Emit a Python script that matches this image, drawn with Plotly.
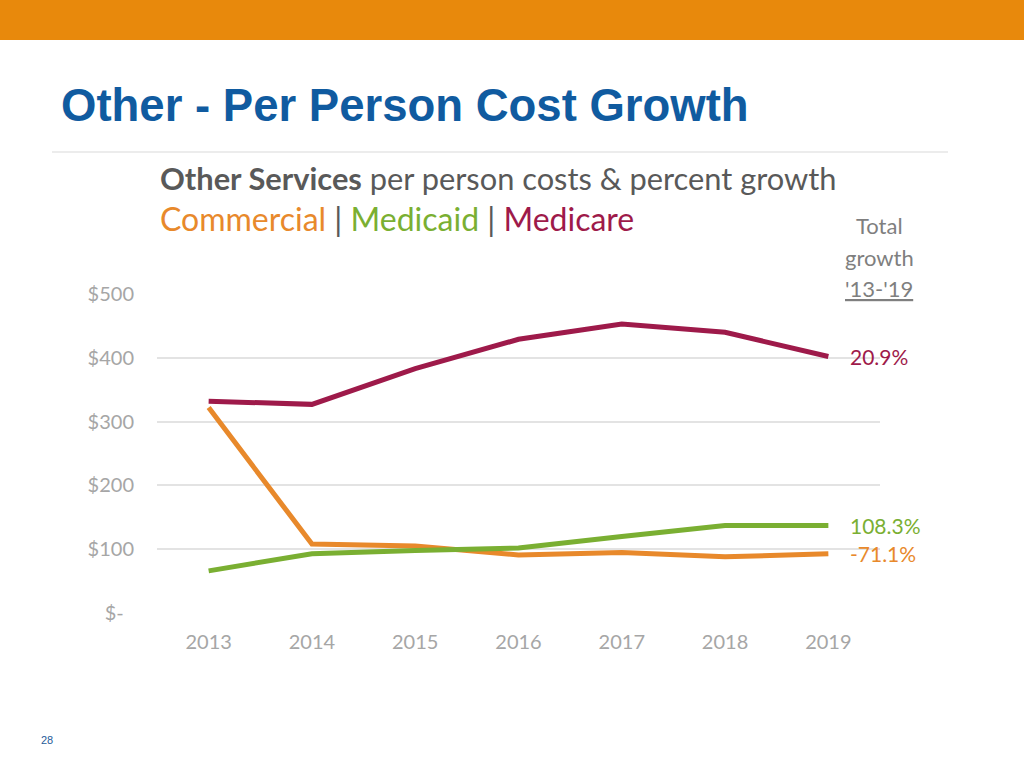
import plotly.graph_objects as go

years = ["2013", "2014", "2015", "2016", "2017", "2018", "2019"]
commercial = [322, 108, 105, 91, 95, 88, 93]
medicaid = [66, 93, 98, 102, 120, 137, 137]
medicare = [332, 327, 383, 429, 453, 440, 402]

y_tickvals = [0, 100, 200, 300, 400, 500]
y_ticktext = ["$-\u00a0\u00a0", "$100", "$200", "$300", "$400", "$500"]

growth_labels = ["-71.1%", "108.3%", "20.9%"]

C_COM = "#E8892B"
C_MCD = "#7AAF32"
C_MCR = "#9E1A4A"
GREY = "#595959"

W, H = 1024, 768
def px(x):
    return x / W
def py(y):
    return 1 - y / H

fig = go.Figure()
for name, vals, col in [("Commercial", commercial, C_COM),
                        ("Medicaid", medicaid, C_MCD),
                        ("Medicare", medicare, C_MCR)]:
    fig.add_trace(go.Scatter(x=years, y=vals, mode="lines", name=name,
                             line=dict(color=col, width=5), showlegend=False))

font_chart = "Lato, Open Sans, sans-serif"

annotations = [
    dict(x=px(59), y=py(105), xref="paper", yref="paper", xanchor="left", yanchor="middle",
         text="<b>Other - Per Person Cost Growth</b>", showarrow=False,
         font=dict(family="Liberation Sans, Arial", size=45.5, color="#105BA0")),
    dict(x=px(158), y=py(179), xref="paper", yref="paper", xanchor="left", yanchor="middle",
         text="<b>Other Services</b> per person costs &amp; percent growth", showarrow=False,
         font=dict(family=font_chart, size=30.8, color=GREY)),
    dict(x=px(158), y=py(218), xref="paper", yref="paper", xanchor="left", yanchor="middle",
         text=(f"<span style='color:{C_COM}'>Commercial</span> | "
               f"<span style='color:{C_MCD}'>Medicaid</span> | "
               f"<span style='color:{C_MCR}'>Medicare</span>"),
         showarrow=False, font=dict(family=font_chart, size=32, color=GREY)),
    dict(x=px(879), y=py(226), xref="paper", yref="paper", xanchor="center", yanchor="middle",
         text="Total", showarrow=False, font=dict(family=font_chart, size=22, color="#7F7F7F")),
    dict(x=px(879), y=py(257), xref="paper", yref="paper", xanchor="center", yanchor="middle",
         text="growth", showarrow=False, font=dict(family=font_chart, size=22, color="#7F7F7F")),
    dict(x=px(879), y=py(289), xref="paper", yref="paper", xanchor="center", yanchor="middle",
         text="<u>'13-'19</u>", showarrow=False, font=dict(family=font_chart, size=22, color="#7F7F7F")),
    dict(x=px(47), y=py(740), xref="paper", yref="paper", xanchor="center", yanchor="middle",
         text="28", showarrow=False, font=dict(family="Liberation Sans, Arial", size=11, color="#1F5C99")),
]
for lab, vals, col in zip(growth_labels, [commercial, medicaid, medicare], [C_COM, C_MCD, C_MCR]):
    annotations.append(dict(x=px(848), y=vals[-1], xref="paper", yref="y", xanchor="left",
                            yanchor="middle", text=lab, showarrow=False,
                            font=dict(family=font_chart, size=21, color=col)))

shapes = [
    dict(type="rect", xref="paper", yref="paper", x0=0, x1=1, y0=py(40), y1=1,
         fillcolor="#E8890C", line=dict(width=0), layer="below"),
    dict(type="line", xref="paper", yref="paper", x0=px(52), x1=px(948), y0=py(152), y1=py(152),
         line=dict(color="#D9D9D9", width=1)),
]

fig.update_layout(
    width=W, height=H, margin=dict(l=0, r=0, t=0, b=0, pad=0, autoexpand=False),
    paper_bgcolor="white", plot_bgcolor="white",
    xaxis=dict(domain=[px(157), px(880)], range=[-0.5, 6.5], showgrid=False, zeroline=False,
               showline=False, ticks="", tickfont=dict(family=font_chart, size=20, color="#A6A6A6"),
               ticklabelstandoff=15, fixedrange=True, automargin=False),
    yaxis=dict(domain=[py(613), py(294)], range=[0, 500], tickvals=y_tickvals, ticktext=y_ticktext,
               showgrid=True, gridcolor="#E3E3E3", gridwidth=2, zeroline=False, showline=False,
               ticks="", tickfont=dict(family=font_chart, size=20, color="#A6A6A6"),
               ticklabelstandoff=22, fixedrange=True, automargin=False),
    annotations=annotations, shapes=shapes,
)

post = ("var s=document.documentElement.style;s.margin='0';s.padding='0';s.overflow='hidden';"
        "var b=document.body.style;b.margin='0';b.padding='0';b.overflow='hidden';")
fig.write_html("out.html", post_script=post, config={"displayModeBar": False})
